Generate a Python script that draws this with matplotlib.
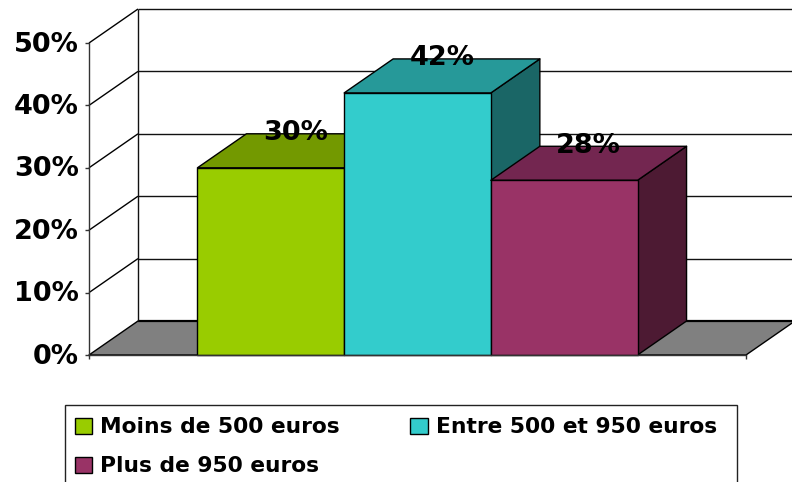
import matplotlib
matplotlib.use("Agg")
import matplotlib.pyplot as plt
from matplotlib.patches import Polygon, Rectangle
from matplotlib.transforms import ScaledTranslation
import numpy as np

# --- data ---
series_names = ["Moins de 500 euros", "Entre 500 et 950 euros", "Plus de 950 euros"]
series_values = [30, 42, 28]
value_labels = ["30%", "42%", "28%"]
y_ticks = [0, 10, 20, 30, 40, 50]
y_tick_labels = ["0%", "10%", "20%", "30%", "40%", "50%"]

# --- style ---
W, H = 792, 482
FRONT_L, FRONT_R, FRONT_T, FRONT_B = 89, 746, 43, 355
DEPTH_X_PX, DEPTH_Y_PX = 49, 34
BAR_PX = 146.7
face_cols = ["#99CC00", "#33CCCC", "#993366"]
top_cols = ["#739900", "#269999", "#732650"]
side_cols = ["#4D6600", "#1A6666", "#4D1A33"]
LW = 1.0

plt.rcParams["font.family"] = "DejaVu Sans"
plt.rcParams["font.weight"] = "bold"

fig = plt.figure(figsize=(W / 100, H / 100), dpi=100, facecolor="white")
ax = fig.add_axes([FRONT_L / W, 1 - FRONT_B / H, (FRONT_R - FRONT_L) / W, (FRONT_B - FRONT_T) / H])
ax.set_xlim(0, 1)
ax.set_ylim(0, 50)
ax.patch.set_visible(False)

# depth and bar width in data units
dx = DEPTH_X_PX / (FRONT_R - FRONT_L)
dy = DEPTH_Y_PX / ((FRONT_B - FRONT_T) / 50)
bw = BAR_PX / (FRONT_R - FRONT_L)


def poly(pts, fc, z, ec="black", lw=LW):
    ax.add_patch(Polygon(pts, closed=True, facecolor=fc, edgecolor=ec, linewidth=lw,
                         zorder=z, clip_on=False, joinstyle="round"))


def line(xs, ys, z=2, color="black", lw=LW):
    ax.plot(xs, ys, color=color, lw=lw, zorder=z, clip_on=False, solid_capstyle="butt")


# floor
poly([(0, 0), (dx, dy), (1 + dx, dy), (1, 0)], "#808080", 1)
line([dx, 1 + dx], [dy, dy], z=1.5, lw=1.6)

# walls and gridlines
line([dx, dx], [dy, 50 + dy], color="#111111")
for t in y_ticks[1:]:
    line([0, dx], [t, t + dy])
    line([dx, 1 + dx], [t + dy, t + dy], color="#111111")

# bars, left to right
n = len(series_values)
start = 0.5 - n * bw / 2
for i, v in enumerate(series_values):
    x0 = start + i * bw
    x1 = x0 + bw
    z = 3 + i
    poly([(x1, 0), (x1 + dx, dy), (x1 + dx, v + dy), (x1, v)], side_cols[i], z)
    poly([(x0, v), (x0 + dx, v + dy), (x1 + dx, v + dy), (x1, v)], top_cols[i], z)
    poly([(x0, 0), (x1, 0), (x1, v), (x0, v)], face_cols[i], z + 0.1)
    ax.text((x0 + x1 + dx) / 2, v + 5.55, value_labels[i], ha="center", va="center",
            fontsize=19.5, fontweight="bold", color="black", zorder=10, clip_on=False)

# axes
for s in ("top", "right"):
    ax.spines[s].set_visible(False)
for s in ("left", "bottom"):
    ax.spines[s].set_color("#333333")
    ax.spines[s].set_linewidth(LW)
    ax.spines[s].set_zorder(9)
ax.set_xticks([0, 1])
ax.set_xticklabels(["", ""])
ax.set_yticks(y_ticks)
ax.set_yticklabels(y_tick_labels, fontsize=19.5, fontweight="bold")
ax.tick_params(axis="both", length=3, width=LW, color="#333333")
ax.tick_params(axis="y", pad=4.5)
shift = ScaledTranslation(0, 1.5 / 100, fig.dpi_scale_trans)
for lab in ax.get_yticklabels():
    lab.set_transform(lab.get_transform() + shift)

# legend, drawn in figure pixel space
ov = fig.add_axes([0, 0, 1, 1], zorder=20)
ov.set_xlim(0, W)
ov.set_ylim(H, 0)
ov.axis("off")
ov.add_patch(Rectangle((65, 405), 672, 100, facecolor="white", edgecolor="#222222", linewidth=1.0))
entries = [(74.5, 426, 0), (410, 426, 1), (74.5, 465, 2)]
for sx, cy, idx in entries:
    ov.add_patch(Rectangle((sx, cy - 8), 17.5, 16, facecolor=face_cols[idx], edgecolor="black", linewidth=1.0))
    ov.text(sx + 26, cy + 1, series_names[idx], ha="left", va="center", fontsize=15.7, fontweight="bold", color="black")

fig.savefig("out.png", dpi=100)
